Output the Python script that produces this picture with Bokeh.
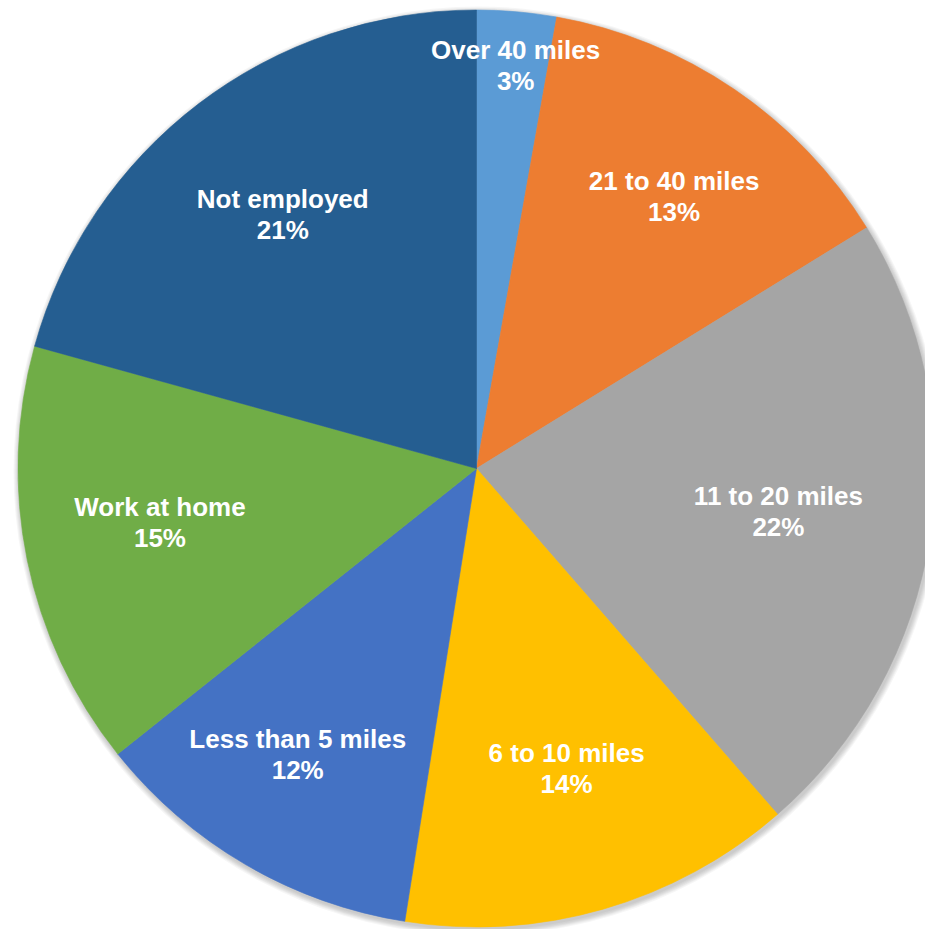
import math
from bokeh.plotting import figure
from bokeh.models import ColumnDataSource
from bokeh.core.properties import value
from bokeh.embed import file_html
from bokeh.resources import INLINE

# ---- data ----
categories = ["Over 40 miles", "21 to 40 miles", "11 to 20 miles", "6 to 10 miles",
              "Less than 5 miles", "Work at home", "Not employed"]
shares = [2.8, 13.4, 22.4, 13.9, 11.8, 15.0, 20.7]
colors = ["#5B9BD5", "#ED7D31", "#A5A5A5", "#FFC000", "#4472C4", "#70AD47", "#255E91"]

# ---- layout ----
W, H = 925, 929
cx, cy, R = 476, 461, 458.5
label_factor = [0.885, 0.735, 0.665, 0.683, 0.735, 0.70, 0.698]
label_nudge_deg = [0.5, 1.7, -0.6, -0.7, 1.8, 2.0, 0.0]  # clockwise

total = sum(shares)
starts, ends, lx, ly, pct = [], [], [], [], []
cum = 0.0
for i, s in enumerate(shares):
    a0 = math.pi / 2 - 2 * math.pi * cum / total
    cum += s
    a1 = math.pi / 2 - 2 * math.pi * cum / total
    starts.append(a0)
    ends.append(a1)
    mid = (a0 + a1) / 2 - math.radians(label_nudge_deg[i])
    lx.append(cx + R * label_factor[i] * math.cos(mid))
    ly.append(cy + R * label_factor[i] * math.sin(mid))
    pct.append(f"{round(s)}%")

src = ColumnDataSource(dict(start=starts, end=ends, color=colors,
                            lx=lx, ly=ly, name=categories, pct=pct))

p = figure(width=W, height=H, x_range=(0, W), y_range=(0, H),
           output_backend="svg", toolbar_location=None, min_border=0)
p.axis.visible = False
p.grid.visible = False
p.outline_line_color = None
p.background_fill_color = "white"
p.border_fill_color = "white"

# soft shadow
for k in range(6, 0, -1):
    p.circle(x=[cx + 1.5], y=[cy - 2.5], radius=R + k, fill_color="black",
             fill_alpha=0.035, line_color=None)

p.wedge(x=cx, y=cy, radius=R, start_angle="start", end_angle="end",
        direction="clock", fill_color="color", line_color="color",
        line_width=0.6, source=src)

common = dict(text_color="white", text_font=value("Liberation Sans"),
              text_font_style="bold", text_font_size="26px",
              text_align="center", text_baseline="middle", source=src)
p.text(x="lx", y="ly", text="name", y_offset=-15, **common)
p.text(x="lx", y="ly", text="pct", y_offset=16, **common)

open("out.html", "w").write(file_html(p, INLINE))
